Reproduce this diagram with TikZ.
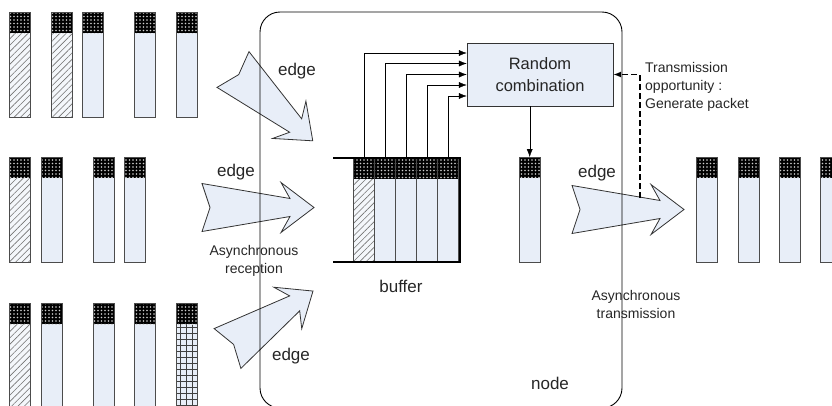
\documentclass[tikz,border=0pt]{standalone}
\usepackage{fontspec}
\setmainfont{Liberation Sans}
\usepackage{tikz}
\usetikzlibrary{arrows.meta,patterns.meta}
\definecolor{pktfill}{RGB}{232,238,248}
\newcommand\hatchbody{\fill[white!50!pktfill] (path picture bounding box.south west) rectangle (path picture bounding box.north east);
    \fill[pattern={Lines[angle=45,distance=4.5pt,line width=0.6pt]}, pattern color=black!55] (path picture bounding box.south west) rectangle (path picture bounding box.north east);}
\newcommand\gridbody{\fill[pattern={Hatch[angle=0,distance=6pt,line width=0.6pt]}, pattern color=black!75] (path picture bounding box.south west) rectangle (path picture bounding box.north east);}
\newcommand\fatarrow[3]{% tail centre, angle, length
    \begin{scope}[shift={#1}, rotate=#2, xscale=#3/112]
        \draw[arrowbody] (0,24) -- (88,9) -- (79,25) -- (112,0) -- (79,-25) -- (88,-9) -- (0,-24) -- (8,0) -- cycle;
    \end{scope}}
\tikzset{
    every node/.style={font=\fontsize{17}{20}\selectfont, text=black!85},
    small/.style={font=\fontsize{14}{18}\selectfont, align=center},
    pkt/.style={draw=black!70, fill=pktfill, minimum width=21pt, minimum height=105pt, inner sep=0pt, anchor=north west,
        path picture={#1
            \fill[black] (path picture bounding box.north west) rectangle ([yshift=-21pt]path picture bounding box.north east);
            \fill[pattern={Dots[radius=0.8pt,distance=3.5pt]}, pattern color=white!80!black] (path picture bounding box.north west) rectangle ([yshift=-21pt]path picture bounding box.north east);}},
    pkt/.default={},
    arrowbody/.style={draw=black!80, fill=pktfill, line width=0.8pt},
    tip/.style={-{Latex[length=8pt,width=6pt]}}
}
\begin{document}
\begin{tikzpicture}[x=1pt,y=-1pt]
    \useasboundingbox (0,0) rectangle (832,405);

    % Draw incoming packets
    \foreach \x/\y in {9/12, 51/12, 9/157, 9/303} {
        \node[pkt=\hatchbody] (in-\x-\y) at (\x,\y) {};
    }
    \foreach \x/\y in {82/12, 134/12, 176/12, 41/157, 93/157, 124/157, 41/303, 93/303, 134/303} {
        \node[pkt] (in-\x-\y) at (\x,\y) {};
    }
    \node[pkt=\gridbody] (in-176-303) at (176,303) {};

    % Draw fat arrows
    \fatarrow{(233,69.5)}{-41.8}{107}
    \fatarrow{(202,207.5)}{0}{112}
    \fatarrow{(227.5,348.5)}{33.9}{103}
    \fatarrow{(572,209.5)}{0}{112}

    % Draw node border
    \draw[line width=0.9pt, rounded corners=20pt] (260,12) rectangle (622,408);

    % Draw buffer
    \node[pkt=\hatchbody, minimum height=104pt] (c1) at (353,158) {};
    \foreach \i/\x in {2/374, 3/395, 4/416, 5/437} {
        \node[pkt, minimum height=104pt] (c\i) at (\x,158) {};
    }
    \draw[line width=2.5pt] (333,158) -- (460,158) -- (460,262) -- (333,262);

    % Random combination
    \node[draw=black!80, fill=pktfill, minimum width=146pt, minimum height=63pt, align=center,
        font=\fontsize{16.5}{22}\selectfont] (comb) at (540,74.5) {Random\\combination};
    \foreach \i/\d in {1/21.5, 2/11, 3/0, 4/-10.5, 5/-21.5} {
        \draw[tip] (c\i.north) |- ([yshift=\d pt]comb.west);
    }

    % Outgoing packets
    \node[pkt] (out) at (519,157) {};
    \draw[tip] (comb.south -| out.north) -- (out.north);
    \foreach \x in {696, 738, 779, 820} {
        \node[pkt] (r\x) at (\x,157) {};
    }

    % Transmission opportunity
    \coordinate (tap) at (640,197.6);
    \draw[tip, line width=1.3pt, dash pattern=on 6pt off 3pt] (tap) |- (comb.east);
    \node[small, align=left, anchor=west, inner sep=0pt] (opp) at (645,87) {Transmission\\opportunity :\\Generate packet};

    % Labels
    \node (e1) at (297,71) {edge};
    \node (e2) at (236,172) {edge};
    \node (e3) at (291,356) {edge};
    \node (e4) at (597,173) {edge};
    \node[small] (recv) at (254,261) {Asynchronous\\reception};
    \node (buf) at (401,286) {buffer};
    \node[small] (trans) at (636,304) {Asynchronous\\transmission};
    \node (lbl) at (550,383) {node};
\end{tikzpicture}
\end{document}
